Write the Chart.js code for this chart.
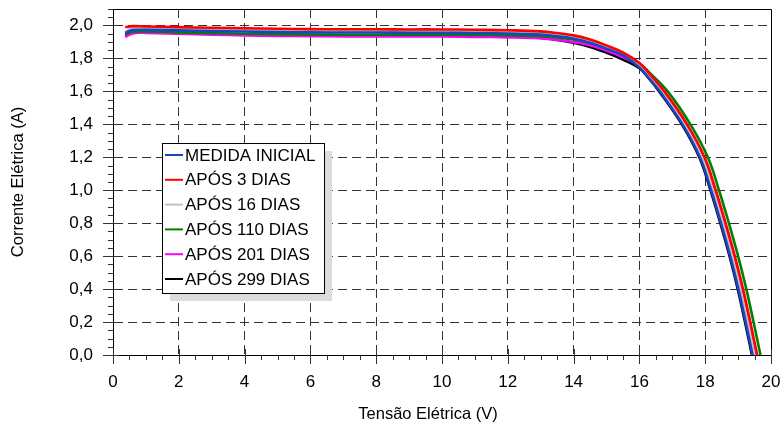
<!DOCTYPE html>
<html>
<head>
<meta charset="utf-8">
<script src="https://cdn.jsdelivr.net/npm/chart.js@4.4.0/dist/chart.umd.min.js"></script>
<style>
  html, body { margin: 0; padding: 0; background: #fff; }
</style>
</head>
<body>
<canvas id="ivChart" width="783" height="428"></canvas>
<script>
// tensão (V) da parte plana e do joelho, comum a todas as curvas
const lowVolts = [0.37, 0.6, 1, 2, 3, 4, 5, 6, 7, 8, 9, 10, 11, 12, 13, 13.5, 14, 14.5, 15, 15.5, 16, 16.3];
// correntes (A) da parte íngreme, comum a todas as curvas
const kneeAmps = [1.6, 1.4, 1.2, 1.0, 0.8, 0.6, 0.4, 0.2, 0.0];

const seriesNames = ['MEDIDA INICIAL', 'APÓS 3 DIAS', 'APÓS 16 DIAS', 'APÓS 110 DIAS', 'APÓS 201 DIAS', 'APÓS 299 DIAS'];
const seriesColors = ['#1646c4', '#ff0000', '#c0c0c0', '#008000', '#ff00ff', '#000000'];

const inicialAmps = [1.955, 1.972, 1.973, 1.97, 1.966, 1.963, 1.96, 1.958, 1.957, 1.957, 1.956, 1.956, 1.954, 1.951, 1.945, 1.934, 1.92, 1.895, 1.859, 1.818, 1.745, 1.677];
const inicialKneeVolts = [16.62, 17.31, 17.84, 18.18, 18.48, 18.76, 19.01, 19.23, 19.44];

const dias3Amps = [1.99, 1.996, 1.994, 1.99, 1.986, 1.983, 1.98, 1.978, 1.977, 1.977, 1.976, 1.976, 1.974, 1.971, 1.964, 1.954, 1.94, 1.915, 1.879, 1.836, 1.772, 1.708];
const dias3KneeVolts = [16.76, 17.45, 17.98, 18.32, 18.62, 18.9, 19.15, 19.37, 19.58];

const dias16Amps = [1.96, 1.985, 1.985, 1.982, 1.977, 1.974, 1.971, 1.969, 1.968, 1.968, 1.967, 1.967, 1.965, 1.962, 1.955, 1.944, 1.93, 1.905, 1.868, 1.825, 1.757, 1.69];
const dias16KneeVolts = [16.68, 17.37, 17.9, 18.24, 18.54, 18.82, 19.07, 19.29, 19.5];

const dias110Amps = [1.948, 1.962, 1.963, 1.958, 1.953, 1.95, 1.947, 1.945, 1.944, 1.944, 1.944, 1.944, 1.943, 1.94, 1.935, 1.927, 1.915, 1.893, 1.862, 1.824, 1.77, 1.715];
const dias110KneeVolts = [16.86, 17.55, 18.08, 18.42, 18.72, 19.0, 19.25, 19.47, 19.68];

const dias201Amps = [1.93, 1.952, 1.955, 1.95, 1.944, 1.94, 1.937, 1.935, 1.934, 1.934, 1.933, 1.933, 1.931, 1.928, 1.922, 1.913, 1.9, 1.88, 1.848, 1.808, 1.755, 1.695];
const dias201KneeVolts = [16.71, 17.4, 17.93, 18.27, 18.57, 18.85, 19.1, 19.32, 19.53];

const dias299Amps = [1.94, 1.958, 1.96, 1.955, 1.95, 1.946, 1.943, 1.941, 1.94, 1.94, 1.94, 1.94, 1.938, 1.934, 1.926, 1.912, 1.895, 1.87, 1.835, 1.793, 1.74, 1.675];
const dias299KneeVolts = [16.6, 17.29, 17.82, 18.16, 18.46, 18.74, 18.99, 19.21, 19.42];

const seriesAmps = [inicialAmps, dias3Amps, dias16Amps, dias110Amps, dias201Amps, dias299Amps];
const seriesKneeVolts = [inicialKneeVolts, dias3KneeVolts, dias16KneeVolts, dias110KneeVolts, dias201KneeVolts, dias299KneeVolts];

const FONT = '"Liberation Sans", Arial, sans-serif';

function buildPoints(amps, kneeVolts) {
    const pts = lowVolts.map((v, i) => ({ x: v, y: amps[i] }));
    kneeVolts.forEach((v, i) => pts.push({ x: v, y: kneeAmps[i] }));
    return pts;
}

function noLabelPadding(scale) {
    scale.paddingTop = 0;
    scale.paddingBottom = 0;
    scale.paddingLeft = 0;
    scale.paddingRight = 0;
}

// moldura, marcas de escala, título do eixo x e legenda com sombra
const decorPlugin = {
    id: 'decor',
    afterDraw(chart) {
        const ctx = chart.ctx;
        const area = chart.chartArea;
        const xs = chart.scales.x;
        const ys = chart.scales.y;
        ctx.save();
        ctx.strokeStyle = '#000';
        ctx.lineWidth = 1;
        ctx.beginPath();
        ctx.moveTo(area.left, area.top + 0.5);
        ctx.lineTo(area.right + 0.5, area.top + 0.5);
        ctx.lineTo(area.right + 0.5, area.bottom);
        ctx.stroke();

        ctx.strokeStyle = '#333';
        for (let v = 0; v <= 20.001; v += 0.5) {
            const px = Math.round(xs.getPixelForValue(v)) + 0.5;
            const major = Math.abs(v / 2 - Math.round(v / 2)) < 1e-6;
            ctx.beginPath();
            ctx.moveTo(px, area.bottom - (major ? 6 : 0));
            ctx.lineTo(px, area.bottom + (major ? 9 : 5));
            ctx.stroke();
        }
        for (let k = 0; k <= 42; k++) {
            const py = Math.round(ys.getPixelForValue(k * 0.05)) + 0.5;
            const major = k % 4 === 0;
            ctx.beginPath();
            ctx.moveTo(area.left - (major ? 10 : 5), py);
            ctx.lineTo(area.left + (major ? 6 : 0), py);
            ctx.stroke();
        }

        ctx.fillStyle = '#000';
        ctx.font = '16.5px ' + FONT;
        ctx.textAlign = 'center';
        ctx.textBaseline = 'middle';
        ctx.fillText('Tensão Elétrica (V)', 428, 414);

        // legenda
        const bx = 162, by = 143, bw = 162, bh = 150;
        ctx.fillStyle = '#dcdcdc';
        ctx.fillRect(bx + 8, by + 8, bw, bh);
        ctx.fillStyle = '#fff';
        ctx.fillRect(bx, by, bw, bh);
        ctx.strokeStyle = '#000';
        ctx.strokeRect(bx + 0.5, by + 0.5, bw, bh);
        ctx.font = '17px ' + FONT;
        ctx.textAlign = 'left';
        chart.data.datasets.forEach((ds, i) => {
            const y = by + 12 + i * 24.8;
            ctx.strokeStyle = ds.borderColor;
            ctx.lineWidth = 2;
            ctx.beginPath();
            ctx.moveTo(bx + 3, y);
            ctx.lineTo(bx + 21, y);
            ctx.stroke();
            ctx.fillStyle = '#000';
            ctx.fillText(ds.label, bx + 23, y + 1);
        });
        ctx.restore();
    }
};

new Chart(document.getElementById('ivChart'), {
    type: 'line',
    data: {
        datasets: seriesNames.map((name, i) => ({
            label: name,
            data: buildPoints(seriesAmps[i], seriesKneeVolts[i]),
            borderColor: seriesColors[i],
            backgroundColor: seriesColors[i],
            borderWidth: 2.6,
            pointRadius: 0,
            tension: 0.4,
            fill: false
        }))
    },
    options: {
        responsive: false,
        animation: false,
        layout: { autoPadding: false, padding: { left: 0, top: 9, right: 12, bottom: 0 } },
        plugins: {
            legend: { display: false },
            tooltip: { enabled: false }
        },
        scales: {
            x: {
                type: 'linear',
                min: 0,
                max: 20,
                afterFit(scale) { scale.height = 73; noLabelPadding(scale); },
                ticks: {
                    stepSize: 2,
                    color: '#000',
                    padding: 17,
                    font: { family: FONT, size: 17 },
                    maxRotation: 0
                },
                grid: {
                    drawTicks: false,
                    lineWidth: 1,
                    color: c => (c.tick && c.tick.value > 0 && c.tick.value < 20) ? '#333' : 'rgba(0,0,0,0)'
                },
                border: { display: true, color: '#000', width: 1, dash: [9, 5] },
                title: { display: false }
            },
            y: {
                min: 0,
                max: 2.1,
                afterFit(scale) { scale.width = 113; noLabelPadding(scale); },
                ticks: {
                    stepSize: 0.2,
                    includeBounds: false,
                    color: '#000',
                    padding: 20,
                    font: { family: FONT, size: 17 },
                    callback: v => v.toFixed(1).replace('.', ',')
                },
                grid: {
                    drawTicks: false,
                    lineWidth: 1,
                    color: c => (c.tick && c.tick.value > 0.01) ? '#333' : 'rgba(0,0,0,0)'
                },
                border: { display: true, color: '#000', width: 1, dash: [9, 5] },
                title: {
                    display: true,
                    text: 'Corrente Elétrica (A)',
                    color: '#000',
                    font: { family: FONT, size: 16.5 },
                    padding: { top: 9, bottom: 0 }
                }
            }
        }
    },
    plugins: [decorPlugin]
});
</script>
</body>
</html>
